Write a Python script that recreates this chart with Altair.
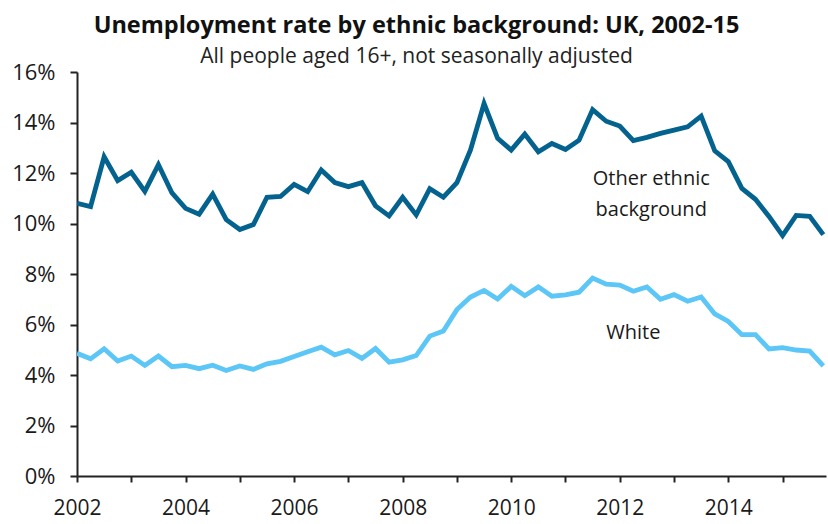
import altair as alt
import pandas as pd

# Quarterly observations, 2002 Q1 .. 2015 Q4 position (56 points)
start_year = 2002
other_ethnic = [10.80, 10.67, 12.64, 11.70, 12.03, 11.27, 12.33, 11.21,
                10.60, 10.37, 11.16, 10.15, 9.76, 9.96, 11.04, 11.07,
                11.55, 11.26, 12.12, 11.62, 11.46, 11.62, 10.70, 10.30,
                11.04, 10.34, 11.38, 11.04, 11.62, 12.91, 14.75, 13.37,
                12.91, 13.54, 12.84, 13.17, 12.93, 13.30, 14.51, 14.05,
                13.86, 13.28, 13.41, 13.57, 13.70, 13.83, 14.25, 12.88,
                12.45, 11.39, 10.96, 10.28, 9.52, 10.32, 10.28, 9.56]
white = [4.86, 4.64, 5.04, 4.55, 4.75, 4.38, 4.75, 4.33,
         4.38, 4.25, 4.39, 4.18, 4.36, 4.22, 4.44, 4.54,
         4.73, 4.92, 5.10, 4.80, 4.97, 4.66, 5.05, 4.51,
         4.60, 4.77, 5.54, 5.74, 6.59, 7.09, 7.35, 7.01,
         7.51, 7.14, 7.49, 7.12, 7.17, 7.28, 7.84, 7.60,
         7.56, 7.32, 7.49, 7.00, 7.18, 6.92, 7.09, 6.42,
         6.12, 5.60, 5.60, 5.03, 5.08, 4.99, 4.95, 4.36]
series_names = ["Other ethnic background", "White"]
series_colors = ["#03628E", "#5CC6F7"]

y_ticks = [0, 2, 4, 6, 8, 10, 12, 14, 16]
x_ticks = list(range(2002, 2016))

label_text = ["Other ethnic", "background", "White"]
label_x = [2012.58, 2012.58, 2012.25]
label_y = [11.75, 10.52, 5.67]
label_series = ["Other ethnic background", "Other ethnic background", "White"]

rows = []
for i, v in enumerate(other_ethnic):
    rows.append({"t": start_year + i * 0.25, "rate": v, "series": series_names[0]})
for i, v in enumerate(white):
    rows.append({"t": start_year + i * 0.25, "rate": v, "series": series_names[1]})
df = pd.DataFrame(rows)

labels = pd.DataFrame({"t": label_x, "rate": label_y, "text": label_text, "series": label_series})

FONT = "Open Sans"
W, H = 749, 404
PAD_L, PAD_T = 77, 72

x_scale = alt.Scale(domain=[2002, 2015.8], nice=False, zero=False)
y_scale = alt.Scale(domain=[0, 16], nice=False)

lines = alt.Chart(df).mark_line(strokeWidth=4.8, strokeJoin="miter", clip=True).encode(
    x=alt.X("t:Q", scale=x_scale,
            axis=alt.Axis(values=x_ticks, title=None, grid=False,
                          labelExpr="datum.value % 2 == 0 ? datum.value : ''",
                          labelFontSize=21, labelFont=FONT, labelColor="#1a1a1a",
                          labelPadding=15, tickSize=6, tickColor="#222",
                          domainColor="#222", domainWidth=2, tickWidth=2,
                          labelFlush=False)),
    y=alt.Y("rate:Q", scale=y_scale,
            axis=alt.Axis(values=y_ticks, title=None, grid=False,
                          labelExpr="datum.value + '%'",
                          labelFontSize=22, labelFont=FONT, labelColor="#1a1a1a",
                          labelPadding=15, tickSize=7, tickColor="#222",
                          domainColor="#222", domainWidth=2, tickWidth=2)),
    color=alt.Color("series:N", scale=alt.Scale(domain=series_names, range=series_colors), legend=None),
    detail="series:N",
)

texts = alt.Chart(labels).mark_text(font=FONT, fontSize=20, color="#1a1a1a", align="center", baseline="middle").encode(
    x=alt.X("t:Q", scale=x_scale),
    y=alt.Y("rate:Q", scale=y_scale),
    text="text:N",
)

chart = alt.layer(lines, texts).properties(
    width=W, height=H,
    title=alt.TitleParams(
        text="Unemployment rate by ethnic background: UK, 2002-15",
        subtitle="All people aged 16+, not seasonally adjusted",
        font=FONT, fontSize=23.5, fontWeight="bold", color="#111",
        subtitleFont=FONT, subtitleFontSize=21, subtitleColor="#222",
        anchor="middle", dx=-35, offset=-6, subtitlePadding=9,
    ),
    autosize=alt.AutoSizeParams(type="none"),
    padding={"left": PAD_L, "top": PAD_T, "right": 828 - PAD_L - W, "bottom": 524 - PAD_T - H},
).configure_view(stroke=None)

chart.save("out.html", embed_options={"renderer": "svg", "actions": False})
